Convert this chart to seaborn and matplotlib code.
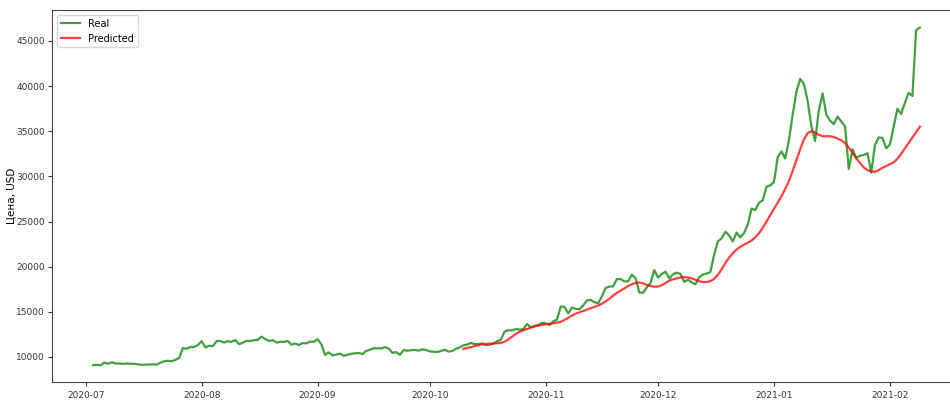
import matplotlib
matplotlib.use('Agg')
import matplotlib.pyplot as plt
import matplotlib.dates as mdates
import seaborn as sns
import pandas as pd

# Real price, daily closes (2020-07-03 .. 2021-02-09)
real_jul = [9087, 9132, 9073, 9375, 9252, 9428, 9277, 9278, 9240, 9277, 9243, 9243, 9192, 9133,
            9151, 9159, 9185, 9164, 9374, 9525, 9581, 9536, 9677, 9905, 10990, 10912, 11100, 11111, 11323]
real_aug = [11759, 11053, 11246, 11205, 11747, 11779, 11601, 11754, 11675, 11878, 11410, 11584, 11784,
            11768, 11865, 11892, 12254, 11991, 11758, 11878, 11592, 11681, 11664, 11774, 11366, 11488,
            11323, 11542, 11506, 11711, 11680]
real_sep = [11970, 11414, 10245, 10511, 10169, 10280, 10369, 10131, 10242, 10363, 10400, 10443, 10323,
            10680, 10796, 10974, 10948, 10944, 11094, 10938, 10462, 10538, 10246, 10760, 10693, 10750,
            10776, 10709, 10844, 10784]
real_oct = [10619, 10575, 10549, 10669, 10793, 10604, 10668, 10916, 11065, 11296, 11384, 11555, 11426,
            11430, 11505, 11323, 11359, 11483, 11742, 11916, 12823, 12966, 12931, 13108, 13031, 13075,
            13654, 13271, 13437, 13546, 13781]
real_nov = [13737, 13550, 13950, 14133, 15579, 15565, 14833, 15479, 15332, 15290, 15701, 16276, 16317,
            16068, 15955, 16716, 17645, 17804, 17817, 18621, 18642, 18370, 18364, 19107, 18732, 17150,
            17108, 17717, 18177, 19625]
real_dec = [18802, 19201, 19445, 18699, 19154, 19345, 19191, 18321, 18553, 18264, 18058, 18803, 19142,
            19246, 19417, 21310, 22805, 23137, 23869, 23477, 22803, 23783, 23241, 23735, 24665, 26437,
            26272, 27084, 27362, 28841, 29001]
real_jan = [29374, 32127, 32782, 31971, 33992, 36824, 39371, 40797, 40254, 38356, 35566, 33922, 37316,
            39187, 36825, 36178, 35792, 36630, 36069, 35547, 30825, 33005, 32067, 32289, 32366, 32569,
            30432, 33466, 34316, 34269, 33114]
real_feb = [33538, 35510, 37472, 36926, 38144, 39266, 38903, 46196, 46481]

# Model prediction (2020-10-10 .. 2021-02-09)
pred_oct = [10900, 11000, 11100, 11200, 11300, 11400, 11450, 11480, 11500, 11520, 11560, 11700,
            11950, 12250, 12550, 12800, 12950, 13100, 13250, 13380, 13480, 13560]
pred_nov = [13620, 13680, 13730, 13800, 13900, 14100, 14350, 14600, 14800, 14950, 15100, 15250, 15400,
            15550, 15700, 15900, 16150, 16450, 16800, 17100, 17350, 17600, 17850, 18050, 18200, 18250,
            18150, 18000, 17850, 17780]
pred_dec = [17800, 17950, 18200, 18450, 18600, 18700, 18800, 18850, 18800, 18700, 18550, 18400, 18300,
            18300, 18400, 18650, 19100, 19700, 20400, 21000, 21500, 21900, 22200, 22450, 22650, 22900,
            23250, 23700, 24300, 25000, 25700]
pred_jan = [26400, 27100, 27800, 28600, 29500, 30600, 31800, 33000, 34100, 34800, 35000, 34850, 34600,
            34450, 34450, 34450, 34350, 34200, 34000, 33700, 33200, 32600, 32000, 31500, 31000, 30700,
            30550, 30500, 30700, 30950, 31150]
pred_feb = [31350, 31550, 31950, 32500, 33100, 33700, 34300, 34900, 35500]

real = real_jul + real_aug + real_sep + real_oct + real_nov + real_dec + real_jan + real_feb
pred = pred_oct + pred_nov + pred_dec + pred_jan + pred_feb

real_df = pd.DataFrame({'date': pd.date_range('2020-07-03', periods=len(real), freq='D'), 'price': real})
pred_df = pd.DataFrame({'date': pd.date_range('2020-10-10', periods=len(pred), freq='D'), 'price': pred})

fig = plt.figure(figsize=(9.5, 4.03), dpi=100)
ax = fig.add_axes([52 / 950, 21 / 403, 909 / 950, 372 / 403])

sns.lineplot(data=real_df, x='date', y='price', ax=ax, color='green', alpha=0.75, linewidth=1.6, label='Real')
sns.lineplot(data=pred_df, x='date', y='price', ax=ax, color='red', alpha=0.75, linewidth=1.6, label='Predicted')

ax.set_xlim(pd.Timestamp('2020-06-22'), pd.Timestamp('2021-02-20'))
ax.set_ylim(7230, 48430)
ax.xaxis.set_major_locator(mdates.MonthLocator())
ax.xaxis.set_major_formatter(mdates.DateFormatter('%Y-%m'))
ax.tick_params(labelsize=6.5, colors='#333333', length=3)
ax.tick_params(axis='y', pad=2)
for s in ax.spines.values():
    s.set_color('#444444')

ax.set_xlabel('')
ax.set_ylabel('Цена, USD', fontsize=7.5)
ax.yaxis.set_label_coords(-0.0395, 0.5)
ax.legend(loc='upper left', fontsize=7)

fig.savefig('out.png', dpi=100)
